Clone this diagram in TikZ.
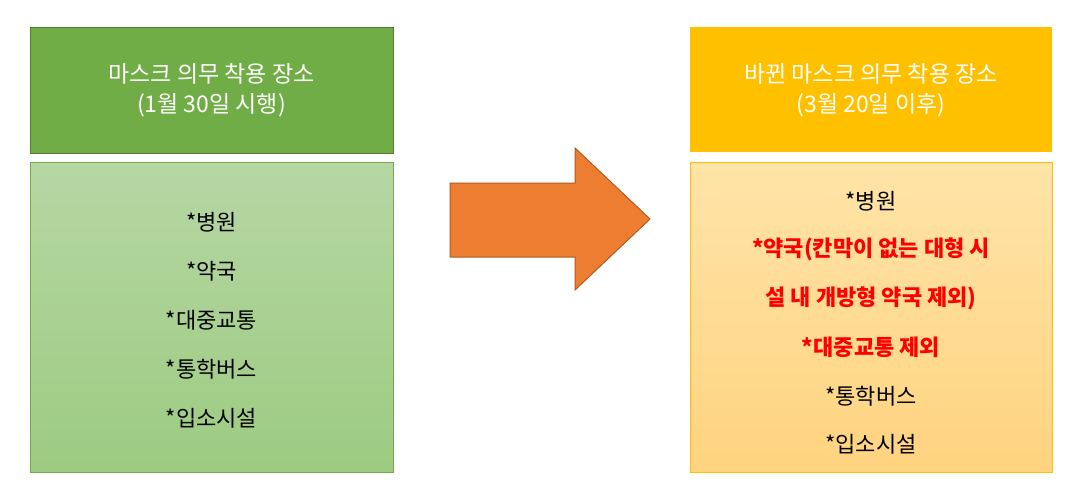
\documentclass[tikz,border=0pt]{standalone}
\usepackage{fontspec}
\newfontfamily\kr{Noto Sans CJK KR}
\definecolor{hgreen}{HTML}{70AD47}
\definecolor{hgreenb}{HTML}{507E32}
\definecolor{gtop}{HTML}{B6D7A4}
\definecolor{gbot}{HTML}{9DCB81}
\definecolor{hgold}{HTML}{FFC000}
\definecolor{otop}{HTML}{FFE4A8}
\definecolor{obot}{HTML}{FFD37F}
\definecolor{arr}{HTML}{ED7D31}
\definecolor{arrb}{HTML}{AE5A21}
\definecolor{red}{HTML}{FF0000}
\begin{document}
\begin{tikzpicture}[x=1pt,y=-1pt,
  hdr/.style={font=\kr\fontsize{23}{30}\selectfont, text=white, align=center},
  itm/.style={font=\kr\fontsize{22}{26}\selectfont, anchor=center},
  ritm/.style={itm, text=red, font=\kr\bfseries\fontsize{22}{26}\selectfont}]
\useasboundingbox (0,0) rectangle (1078,496);
\fill[hgreen, draw=hgreenb, line width=1pt] (30,27) rectangle (393,153);
\node[hdr] (lh) at (211.5,90) {마스크 의무 착용 장소\\(1월 30일 시행)};
\shade[top color=gtop, bottom color=gbot] (30,162) rectangle (393,472);
\draw[hgreen, line width=1pt] (30,162) rectangle (393,472);
\node[itm] (l1) at (211.5,222) {*병원};
\node[itm] (l2) at (211.5,271) {*약국};
\node[itm] (l3) at (211.5,320) {*대중교통};
\node[itm] (l4) at (211.5,369) {*통학버스};
\node[itm] (l5) at (211.5,418) {*입소시설};
\fill[arr, draw=arrb, line width=1pt] (450,183) -- (575,183) -- (575,148) -- (650,219) -- (575,290) -- (575,257) -- (450,257) -- cycle;
\fill[hgold] (690,27) rectangle (1052,152);
\node[hdr] (rh) at (871,90) {바뀐 마스크 의무 착용 장소\\(3월 20일 이후)};
\shade[top color=otop, bottom color=obot] (690,162) rectangle (1052,472);
\draw[hgold, line width=1pt] (690,162) rectangle (1052,472);
\node[itm] (r1) at (871,201) {*병원};
\node[ritm] (r2) at (871,249) {*약국(칸막이 없는 대형 시};
\node[ritm] (r3) at (871,298) {설 내 개방형 약국 제외)};
\node[ritm] (r4) at (871,347) {*대중교통 제외};
\node[itm] (r5) at (871,396) {*통학버스};
\node[itm] (r6) at (871,444) {*입소시설};
\end{tikzpicture}
\end{document}
